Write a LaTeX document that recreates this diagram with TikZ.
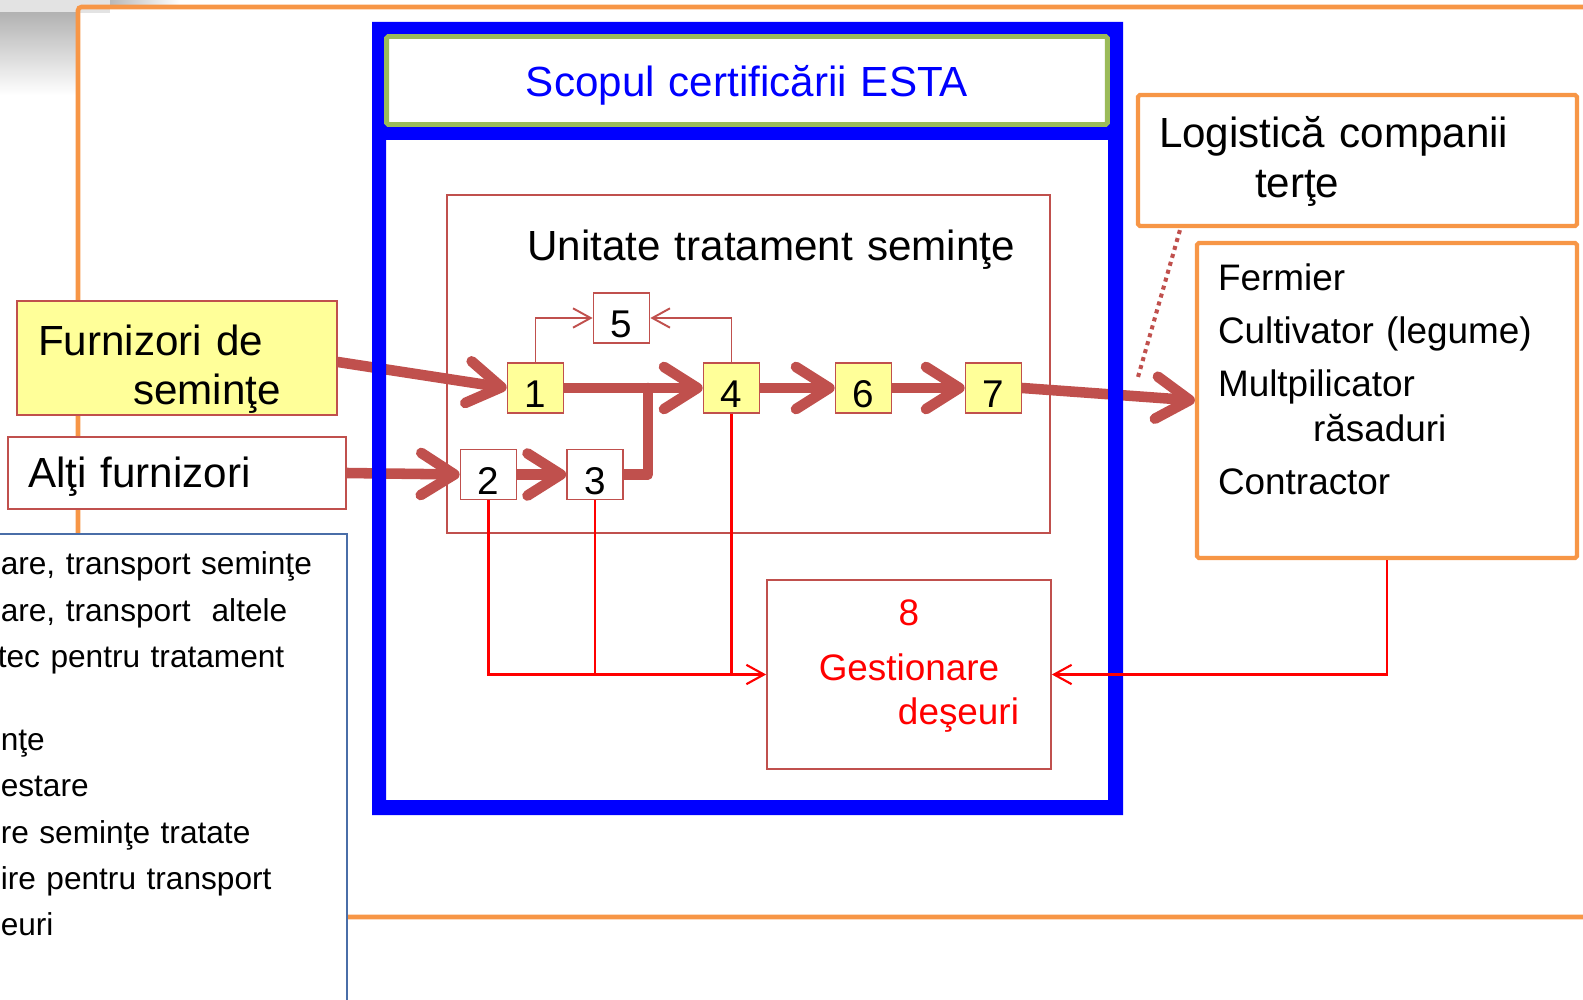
\documentclass[tikz,border=0pt]{standalone}
\usepackage{fontspec}
\setmainfont{Liberation Sans}
\usetikzlibrary{arrows.meta,calc}
\newdimen\pxu \pxu=0.569055pt
\definecolor{brickred}{RGB}{192,80,77}
\definecolor{yfill}{RGB}{255,255,153}
\definecolor{orangec}{RGB}{247,150,70}
\definecolor{greenc}{RGB}{155,187,89}
\definecolor{bluec}{RGB}{0,0,255}
\definecolor{redc}{RGB}{255,0,0}
\definecolor{panelc}{RGB}{74,110,168}
\pgfdeclarelayer{back}
\pgfdeclarelayer{arrowlayer}
\pgfsetlayers{back,arrowlayer,main}
\tikzset{
  numbox/.style={draw=brickred, line width=1pt, inner sep=0pt,
    minimum width=56*\pxu, minimum height=50*\pxu,
    text height=40*\pxu, text depth=0pt, font=\fontsize{22}{26}\selectfont},
  ynum/.style={numbox, fill=yfill},
  wnum/.style={numbox, fill=white},
  srcbox/.style={draw=brickred, line width=1pt, inner sep=0pt, align=left},
  orbox/.style={draw=orangec, line width=2.4pt, fill=white, inner sep=0pt,
    align=left, rounded corners=1pt},
  bigarrow/.style={draw=brickred, line width=6pt, line cap=round, line join=round,
    -{Straight Barb[length=19pt,width=24pt,round]}},
  thinarrow/.style={draw=brickred, line width=1.1pt,
    -{Straight Barb[length=10pt,width=11pt]}},
  redarrow/.style={draw=redc, line width=1.2pt,
    -{Straight Barb[length=10pt,width=11pt]}},
  redline/.style={draw=redc, line width=1.2pt},
  dotline/.style={draw=brickred, line width=2.3pt, dash pattern=on 2.3pt off 2.4pt},
}
\begin{document}
\begin{tikzpicture}[x=0.02cm, y=-0.02cm]
\useasboundingbox (0,0) rectangle (1583,1000);
\clip (0,0) rectangle (1583,1000);

% ---------- back layer ----------
\begin{pgfonlayer}{back}
  \fill[gray!22] (0,0) rectangle (110,13);
  \shade[top color=gray!60, bottom color=white] (0,13) rectangle (76,95);
  \shade[left color=gray!55, right color=white] (110,0) rectangle (180,5);
  \draw[orangec, line width=2.6pt, rounded corners=2pt] (78,7) rectangle (1650,917);
  \node[draw=panelc, line width=0.9pt, fill=white, anchor=north west, inner sep=0pt,
        inner xsep=10*\pxu, text width=336*\pxu, minimum height=477*\pxu, align=left,
        font=\fontsize{18}{26.35}\selectfont] (panel) at (-10,533)
    {\rule{0pt}{41\pxu}are, transport seminţe\\
     are, transport~ altele\\
     \hspace*{-3\pxu}tec pentru tratament\\[37\pxu]
     nţe\\
     estare\\
     re seminţe tratate\\
     ire pentru transport\\
     euri\rule[-75\pxu]{0pt}{75\pxu}};
  \node[draw=brickred, line width=1pt, inner sep=0pt, inner xsep=10*\pxu,
        text width=583*\pxu, minimum height=338*\pxu, align=center,
        font=\fontsize{24}{28}\selectfont] (unit) at (748.5,364)
    {\hspace*{45\pxu}\rule{0pt}{40\pxu}Unitate tratament seminţe\rule[-248\pxu]{0pt}{248\pxu}};
\end{pgfonlayer}

% ---------- nodes ----------
\node[ynum] (b1) at (535.5,388) {1};
\node[ynum] (b4) at (731.5,388) {4};
\node[ynum] (b6) at (863.5,388) {6};
\node[ynum] (b7) at (993.5,388) {7};
\node[wnum] (b2) at (488.5,474.5) {2};
\node[wnum] (b3) at (595,474.5) {3};
\node[wnum] (b5) at (621.5,318) {5};

\node[srcbox, fill=yfill, inner xsep=21*\pxu, text width=278*\pxu, minimum height=110*\pxu,
      font=\fontsize{24}{28.45}\selectfont] (furn) at (177,358)
  {\rule{0pt}{54\pxu}Furnizori de\\\hspace*{95\pxu}seminţe\rule[-10\pxu]{0pt}{10\pxu}};
\node[srcbox, fill=white, inner xsep=20*\pxu, text width=298*\pxu, minimum height=72*\pxu,
      font=\fontsize{24}{28.45}\selectfont] (alti) at (177,473)
  {\rule{0pt}{42\pxu}Alţi furnizori\rule[-12\pxu]{0pt}{12\pxu}};

\node[orbox, inner xsep=21*\pxu, text width=397*\pxu, minimum height=131*\pxu,
      font=\fontsize{24}{29}\selectfont] (logi) at (1357.5,160.5)
  {\rule{0pt}{36\pxu}Logistică companii\\\hspace*{96\pxu}terţe\rule[-12\pxu]{0pt}{12\pxu}};
\node[orbox, inner xsep=21*\pxu, text width=338*\pxu, minimum height=315*\pxu,
      font=\fontsize{21}{30.16}\selectfont] (ferm) at (1387,400.5)
  {\rule{0pt}{28\pxu}Fermier\\Cultivator (legume)\\Multpilicator\\[-8\pxu]\hspace*{95\pxu}răsaduri\\Contractor\rule[-44\pxu]{0pt}{44\pxu}};

\node[draw=brickred, line width=1pt, fill=white, inner sep=0pt, inner xsep=10*\pxu,
      text width=264*\pxu, minimum height=189*\pxu, align=center, text=redc,
      font=\fontsize{21}{31.3}\selectfont] (gest) at (909,674.5)
  {\rule{0pt}{30\pxu}8\\Gestionare\\[-10\pxu]\hspace*{99\pxu}deşeuri\rule[-29\pxu]{0pt}{29\pxu}};

\coordinate (join) at (648,388);
\coordinate (dotend) at (1138,377);

% ---------- thick flow arrows (under the blue frame) ----------
\begin{pgfonlayer}{arrowlayer}
  \draw[bigarrow] ($(furn.east)+(0,4)$) -- (b1.west);
  \draw[bigarrow] (alti.east) -- (b2.west);
  \draw[bigarrow] (b2.east) -- (b3.west);
  \draw[bigarrow] (b1.east) -- (b4.west);
  \draw[bigarrow, -] (b3.east) -| (join);
  \draw[bigarrow] (b4.east) -- (b6.west);
  \draw[bigarrow] (b6.east) -- (b7.west);
  \draw[bigarrow] (b7.east) -- (ferm.west);
\end{pgfonlayer}

% ---------- blue frame and title ----------
\fill[bluec, even odd rule] (372,22) rectangle (1123,815) (386,140) rectangle (1108,800);
\node[draw=greenc, line width=2.8pt, fill=white, rounded corners=1pt, inner sep=0pt,
      inner xsep=10*\pxu, text width=701*\pxu, minimum height=88*\pxu, align=center,
      text=bluec, font=\fontsize{24}{28}\selectfont] (title) at (747,80.5)
  {\rule{0pt}{43\pxu}Scopul certificării ESTA\rule[-10\pxu]{0pt}{10\pxu}};

% ---------- thin connectors ----------
\draw[thinarrow] (b1.north) |- (b5.west);
\draw[thinarrow] (b4.north) |- (b5.east);
\draw[redarrow] (b2.south) |- (gest.west);
\draw[redline] (b3.south) -- (b3.south |- gest.west);
\draw[redline] (b4.south) -- (b4.south |- gest.west);
\draw[redarrow] (ferm.south) |- (gest.east);
\draw[dotline] ($(logi.south west)+(44,2)$) -- (dotend);
\end{tikzpicture}
\end{document}
